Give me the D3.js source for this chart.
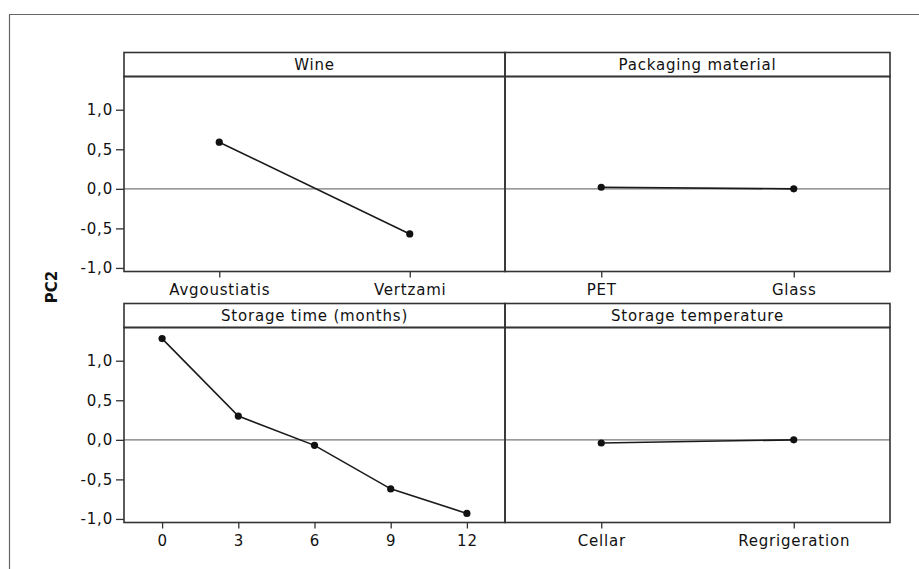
<!DOCTYPE html>
<meta charset="utf-8">
<style>
body { margin: 0; background: #fff; }
text { font-family: "DejaVu Sans", Verdana, sans-serif; font-size: 15px; fill: #111; letter-spacing: 0.8px; }
.frame { fill: none; stroke: #333; stroke-width: 1.6px; }
.zero { stroke: #777; stroke-width: 1.2px; }
.effect { fill: none; stroke: #1a1a1a; stroke-width: 1.6px; }
.axis path { display: none; }
.axis line { stroke: #333; stroke-width: 1.3px; }
</style>
<body>
<script src="https://d3js.org/d3.v7.min.js"></script>
<script>
// main effects on PC2
var wineCats = ["Avgoustiatis", "Vertzami"],
    wineVals = [0.59, -0.57];
var packCats = ["PET", "Glass"],
    packVals = [0.02, 0.0];
var timeCats = ["0", "3", "6", "9", "12"],
    timeVals = [1.28, 0.30, -0.07, -0.62, -0.93];
var tempCats = ["Cellar", "Regrigeration"],
    tempVals = [-0.04, 0.0];
var yTicks = [-1, -0.5, 0, 0.5, 1];

var panels = [
    {title: "Wine", cats: wineCats, vals: wineVals, col: 0, row: 0},
    {title: "Packaging material", cats: packCats, vals: packVals, col: 1, row: 0},
    {title: "Storage time (months)", cats: timeCats, vals: timeVals, col: 0, row: 1},
    {title: "Storage temperature", cats: tempCats, vals: tempVals, col: 1, row: 1}
];

var width = 919, height = 569;
var colX = [124, 505, 890],
    rowTop = [52.5, 303.5],
    stripH = 24,
    plotH = 195;

var fmt = d3.formatLocale({decimal: ",", thousands: ".", grouping: [3], currency: ["", ""], minus: "-"}).format(".1f");

var svg = d3.select("body").append("svg")
    .attr("width", width)
    .attr("height", height);

// outer frame (open at right/bottom like the crop)
svg.append("path")
    .attr("d", "M9.5," + height + "V14.5H" + width)
    .attr("fill", "none")
    .attr("stroke", "#666")
    .attr("stroke-width", 1.2);

var y = d3.scaleLinear().domain([-1.045, 1.42]);

panels.forEach(function(p) {
    var x0 = colX[p.col], x1 = colX[p.col + 1];
    var top = rowTop[p.row], plotTop = top + stripH, plotBottom = plotTop + plotH;
    var x = d3.scalePoint().domain(p.cats).range([x0, x1]).padding(0.5);
    var yy = y.copy().range([plotBottom, plotTop]);
    var g = svg.append("g");

    // zero reference line
    g.append("line").attr("class", "zero")
        .attr("x1", x0).attr("x2", x1)
        .attr("y1", yy(0)).attr("y2", yy(0));

    var pts = p.cats.map(function(c, i) { return [c, p.vals[i]]; });
    g.append("path").attr("class", "effect")
        .attr("d", d3.line().x(function(d) { return x(d[0]); }).y(function(d) { return yy(d[1]); })(pts));
    g.selectAll("circle").data(pts).enter().append("circle")
        .attr("cx", function(d) { return x(d[0]); })
        .attr("cy", function(d) { return yy(d[1]); })
        .attr("r", 3.6)
        .attr("fill", "#111");

    // strip + panel frame
    g.append("rect").attr("class", "frame")
        .attr("x", x0).attr("y", top).attr("width", x1 - x0).attr("height", stripH);
    g.append("rect").attr("class", "frame")
        .attr("x", x0).attr("y", plotTop).attr("width", x1 - x0).attr("height", plotH);
    g.append("text")
        .attr("x", (x0 + x1) / 2).attr("y", top + stripH / 2)
        .attr("dy", "0.36em")
        .attr("text-anchor", "middle")
        .text(p.title);

    // x axis
    g.append("g").attr("class", "axis")
        .attr("transform", "translate(0," + plotBottom + ")")
        .call(d3.axisBottom(x).tickSize(6).tickPadding(7))
        .selectAll("text").attr("fill", "#111").style("font-size", "15px")
        .style("font-family", "DejaVu Sans, Verdana, sans-serif");

    if (p.col === 0) {
        g.append("g").attr("class", "axis")
            .attr("transform", "translate(" + x0 + ",0)")
            .call(d3.axisLeft(yy).tickValues(yTicks).tickFormat(fmt).tickSize(8).tickPadding(3))
            .selectAll("text").attr("fill", "#111").style("font-size", "15px")
            .style("font-family", "DejaVu Sans, Verdana, sans-serif");
    }
});

svg.append("text")
    .attr("transform", "translate(57,287) rotate(-90)")
    .attr("text-anchor", "middle")
    .style("font-weight", "bold")
    .style("letter-spacing", "0px")
    .text("PC2");
</script>
</body>
